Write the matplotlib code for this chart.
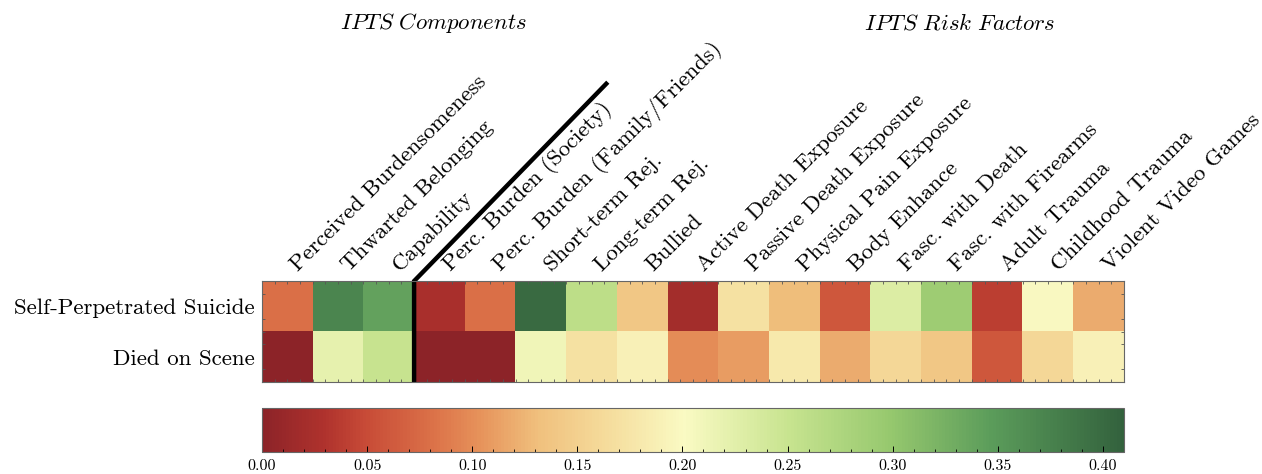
import numpy as np
import matplotlib
matplotlib.use("Agg")
import matplotlib.pyplot as plt
import matplotlib.transforms as mtransforms
from matplotlib.colors import LinearSegmentedColormap
from matplotlib.ticker import MultipleLocator, FormatStrFormatter

plt.rcParams['font.family'] = 'cmr10'
plt.rcParams['mathtext.fontset'] = 'cm'
plt.rcParams['axes.formatter.use_mathtext'] = True

# data
columns = ["Perceived Burdensomeness", "Thwarted Belonging", "Capability",
           "Perc. Burden (Society)", "Perc. Burden (Family/Friends)",
           "Short-term Rej.", "Long-term Rej.", "Bullied",
           "Active Death Exposure", "Passive Death Exposure",
           "Physical Pain Exposure", "Body Enhance", "Fasc. with Death",
           "Fasc. with Firearms", "Adult Trauma", "Childhood Trauma",
           "Violent Video Games"]
rows = ["Self-Perpetrated Suicide", "Died on Scene"]
suicide = [0.08, 0.37, 0.34, 0.025, 0.08, 0.40, 0.26, 0.14, 0.02, 0.17,
           0.13, 0.06, 0.23, 0.29, 0.04, 0.20, 0.12]
scene = [0.0, 0.22, 0.25, 0.0, 0.0, 0.21, 0.17, 0.19, 0.10, 0.11,
         0.18, 0.12, 0.16, 0.14, 0.06, 0.16, 0.19]
groups = ["IPTS Components", "IPTS Risk Factors"]
n_components = 3
vmax = 0.41

# muted red-yellow-green like the original
stops = [(0.00, "#8c2328"), (0.07, "#af322d"), (0.12, "#c84b37"),
         (0.20, "#dc7349"), (0.25, "#e6915a"), (0.32, "#f0c07d"),
         (0.40, "#f5dc9c"), (0.49, "#fafac3"), (0.61, "#c8e490"),
         (0.73, "#96c86e"), (0.85, "#5a9b5a"), (1.00, "#33623d")]
cmap = LinearSegmentedColormap.from_list("muted_rdylgn", stops)

fig = plt.figure(figsize=(12.62, 4.74), dpi=100)
ax = fig.add_axes([0.2076, 0.194, 0.683, 0.213])
im = ax.imshow(np.array([suicide, scene]), cmap=cmap, vmin=0, vmax=vmax,
               aspect='auto', interpolation='nearest')

# column labels, rotated, starting just above each cell centre
ax.set_xticks([])
off = mtransforms.ScaledTranslation(0.11, 0.09, fig.dpi_scale_trans)
for i, name in enumerate(columns):
    ax.text(i, 1.0, name, transform=ax.get_xaxis_transform() + off,
            rotation=45, ha='left', va='baseline', rotation_mode='anchor',
            fontsize=16.5)

ax.set_yticks(range(len(rows)))
ax.set_yticklabels(rows, fontsize=16.5)
ax.tick_params(which='major', length=0, pad=5)
ax.xaxis.set_minor_locator(MultipleLocator(0.25))
ax.yaxis.set_minor_locator(MultipleLocator(0.25))
ax.tick_params(which='minor', direction='in', length=2.5, width=0.6,
               color='#555555', top=True, bottom=True, left=True, right=True)
for s in ax.spines.values():
    s.set_linewidth(0.8)
    s.set_color('#666666')

# divider between components and risk factors
xd = n_components - 0.5
ax.plot([xd, xd, xd + 3.82], [1.5, -0.5, -0.5 - 3.94], color='black',
        lw=3.2, clip_on=False, solid_joinstyle='miter', solid_capstyle='butt')
ax.set_xlim(-0.5, len(columns) - 0.5)
ax.set_ylim(len(rows) - 0.5, -0.5)

fig.text(434 / 1262, 1 - 23 / 474, r'$\mathit{IPTS\ Components}$',
         ha='center', va='center', fontsize=16.5)
fig.text(960 / 1262, 1 - 23 / 474, r'$\mathit{IPTS\ Risk\ Factors}$',
         ha='center', va='center', fontsize=16.5)

cax = fig.add_axes([0.2076, 0.046, 0.683, 0.093])
cb = fig.colorbar(im, cax=cax, orientation='horizontal')
cb.set_ticks(np.arange(0, 0.401, 0.05))
cb.ax.xaxis.set_major_formatter(FormatStrFormatter('%.2f'))
cb.ax.xaxis.set_minor_locator(MultipleLocator(0.01))
cb.ax.tick_params(which='major', direction='in', length=4, width=0.7,
                  labelsize=11.5, pad=5)
cb.ax.tick_params(which='minor', direction='in', length=2, width=0.6)
cb.outline.set_linewidth(0.8)
cb.outline.set_edgecolor('#666666')

fig.savefig("out.png", dpi=100)
